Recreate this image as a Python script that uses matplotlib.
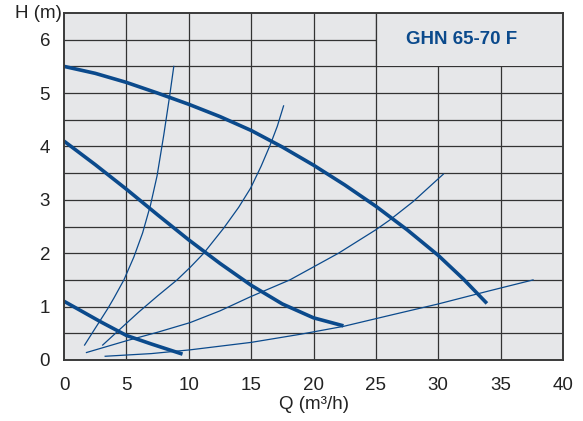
import matplotlib
matplotlib.use("Agg")
import matplotlib.pyplot as plt
from matplotlib.patches import Rectangle

plt.rcParams['font.family'] = ['Liberation Sans', 'DejaVu Sans']

# pump curves (thick)
q_top = [0, 2.5, 5, 7.5, 10, 12.5, 15, 17.5, 20, 22.5, 25, 27.5, 30, 32, 33.9]
h_top = [5.5, 5.37, 5.2, 5.0, 4.79, 4.56, 4.3, 3.99, 3.65, 3.28, 2.88, 2.44, 1.96, 1.52, 1.06]

q_mid = [0, 2.5, 5, 7.5, 10, 12.5, 15, 17.5, 20, 22.4]
h_mid = [4.1, 3.66, 3.2, 2.72, 2.25, 1.81, 1.4, 1.05, 0.79, 0.64]

q_low = [0, 1.3, 2.9, 5, 7, 9.5]
h_low = [1.1, 0.93, 0.72, 0.46, 0.3, 0.11]

# system curves (thin)
q_s1 = [1.65, 2.3, 2.9, 3.5, 4.0, 4.8, 5.6, 6.3, 6.93, 7.46, 8.0, 8.47, 8.8]
h_s1 = [0.28, 0.52, 0.74, 0.96, 1.16, 1.5, 1.93, 2.38, 2.9, 3.45, 4.22, 4.95, 5.5]

q_s2 = [3.1, 4.5, 6.0, 7.5, 9.06, 10.13, 11.2, 12.8, 14.0, 14.96, 15.8, 16.53, 17.1, 17.6]
h_s2 = [0.28, 0.58, 0.9, 1.2, 1.5, 1.74, 2.0, 2.47, 2.86, 3.22, 3.63, 4.03, 4.38, 4.76]

q_s3 = [1.8, 5, 7.5, 10.1, 12.5, 14.9, 18.1, 22.0, 25, 26.1, 28, 30.4]
h_s3 = [0.14, 0.36, 0.52, 0.7, 0.92, 1.18, 1.5, 2.0, 2.44, 2.62, 2.97, 3.48]

q_s4 = [3.3, 7, 10.1, 15, 18.9, 22.4, 26, 30, 34, 37.6]
h_s4 = [0.07, 0.12, 0.19, 0.33, 0.48, 0.63, 0.83, 1.05, 1.29, 1.5]

x_ticks = [0, 5, 10, 15, 20, 25, 30, 35, 40]
y_ticks = [0, 1, 2, 3, 4, 5, 6]
titulo = 'GHN 65-70 F'

azul = '#0b4a8c'
fundo = '#e6e7e9'

fig = plt.figure(figsize=(5.83, 4.21), dpi=100)
ax = fig.add_axes([0.1098, 0.1449, 0.8559, 0.8242])
ax.set_facecolor(fundo)

ax.set_xlim(0, 40)
ax.set_ylim(0, 6.5)

# grade
for x in x_ticks[1:-1]:
    ax.axvline(x, color='#333333', lw=0.9, zorder=1)
for i in range(1, 13):
    ax.axhline(i * 0.5, color='#333333', lw=0.9, zorder=1)

# caixa do titulo
ax.add_patch(Rectangle((25, 5.5), 15, 1.0, facecolor=fundo, edgecolor='none', zorder=2))
ax.add_line(plt.Line2D([25, 25], [5.5, 6.5], color='#333333', lw=0.9, zorder=2.5))
ax.text(31.9, 6.0, titulo, color=azul, fontsize=13.5, fontweight='bold',
        ha='center', va='center', zorder=3)

for q, h in [(q_top, h_top), (q_mid, h_mid), (q_low, h_low)]:
    ax.plot(q, h, color=azul, lw=2.6, solid_capstyle='butt', solid_joinstyle='round', zorder=5)
for q, h in [(q_s1, h_s1), (q_s2, h_s2), (q_s3, h_s3), (q_s4, h_s4)]:
    ax.plot(q, h, color=azul, lw=0.9, solid_joinstyle='round', zorder=4)

ax.set_xticks(x_ticks)
ax.set_yticks(y_ticks)
ax.tick_params(length=0, labelsize=13.5, colors='#222222')
ax.tick_params(axis='x', pad=12)
ax.tick_params(axis='y', pad=10)

for s in ax.spines.values():
    s.set_color('#3a3a3a')
    s.set_linewidth(1.4)
    s.set_zorder(6)

ax.set_xlabel('Q (m³/h)', fontsize=13.5, color='#222222', labelpad=2)
ax.text(-0.15, 6.5, 'H (m)', fontsize=13.5, color='#222222', ha='right', va='center')

fig.savefig('out.png', dpi=100)
